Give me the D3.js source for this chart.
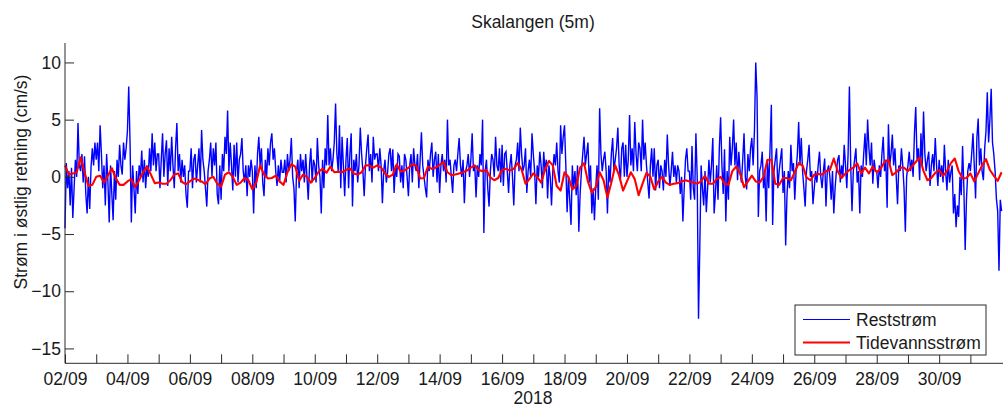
<!DOCTYPE html>
<html>
<head>
<meta charset="utf-8">
<script src="https://cdn.jsdelivr.net/npm/d3@7"></script>
<style>
  html, body { margin: 0; padding: 0; background: #fff; }
  svg { display: block; }
  text { font-family: "Liberation Sans", Arial, Helvetica, sans-serif; fill: #1a1a1a; }
</style>
</head>
<body>
<svg id="chart" width="1003" height="408"></svg>
<script>
// Skalangen (5 m): east-going current, September 2018.
const title = "Skalangen (5m)";
const yLabel = "Strøm i østlig retning (cm/s)";
const xLabel = "2018";
const seriesNames = ["Reststrøm", "Tidevannsstrøm"];
const startDate = Date.UTC(2018, 8, 2);
const endDate = Date.UTC(2018, 9, 2);
const yTicks = [-15, -10, -5, 0, 5, 10];

// Residual current (cm/s), hourly, one row per day from 02/09.
const residual = [
  -4.5, 1.2, -1.0, 0.5, -2.5, 0.8, -3.6, -1.0, 1.5, 0.0, 4.7, 1.0, 0.5, 2.0, -0.5, 1.8, -1.5, -3.2, 0.0, -2.8, 0.8, 2.5, 1.0, 3.0,
  1.5, 3.0, 0.5, 4.5, 2.0, -1.0, 1.0, -2.5, 2.0, -0.5, -4.0, 1.0, -1.5, -3.8, 0.5, -2.0, 1.5, 0.0, 2.8, 1.0, 0.2, 3.0, 1.5, 2.5,
  4.0, 7.9, 3.0, -4.0, 1.0, -1.0, -3.2, 0.5, -1.5, 1.0, 0.0, 2.3, -0.5, 1.5, -1.0, 1.0, 0.0, 2.5, 0.5, 3.8, 1.0, 3.0, 0.5, 2.0,
  2.0, -1.0, 1.5, 3.8, 0.0, 2.0, 3.2, -0.8, 2.5, 0.5, 3.5, 1.0, -1.0, 2.5, 4.7, 0.5, 2.0, -0.5, 1.5, 0.0, 1.0, -1.5, -2.7, 0.5,
  0.5, 2.5, -1.0, 1.5, 2.0, -0.5, 1.0, 2.5, -0.5, 4.1, 1.5, 0.5, -1.0, -2.6, 0.5, 1.5, 3.0, 0.0, 2.5, 1.0, 3.0, -1.5, -2.4, 1.0,
  -2.0, 2.0, 0.5, 3.5, 2.0, 5.8, 0.5, 3.0, 1.0, -1.2, 2.8, 0.0, 3.0, -0.5, 1.5, 2.0, 3.4, 0.5, -0.5, 1.0, -1.7, 1.0, 0.0, 1.5,
  0.5, -3.2, 1.0, -1.0, 2.0, 3.5, 1.0, 2.5, -0.5, -1.7, 1.5, 0.0, 2.5, 1.0, 3.0, 3.8, 1.5, 2.5, 0.5, -0.8, 1.0, -0.5, 1.5, 0.4,
  0.4, 1.5, -0.5, 2.0, 0.5, 1.5, 3.4, 0.0, -1.0, -3.9, 0.5, 1.5, -1.0, 2.0, 0.5, 1.5, -0.5, 2.0, 0.0, -2.0, 1.0, 2.5, -0.5, 1.5,
  1.0, -0.5, 3.4, 1.0, 0.0, -3.2, 1.5, -1.0, 2.5, 1.0, 5.4, 1.0, 2.5, 0.5, 1.5, 3.0, 6.4, 2.0, 0.5, 4.5, -1.0, 3.5, 1.0, -1.7,
  1.5, 3.4, -1.0, 2.0, 3.8, -2.6, 1.5, 0.5, 2.0, -0.5, 1.0, 4.3, 2.0, 0.5, -1.7, 1.0, 2.5, 3.7, 0.5, 2.0, -0.5, 3.5, 1.5, 2.0,
  2.0, 0.5, 2.5, 1.0, -2.3, 0.5, 1.5, -0.5, 0.4, 2.0, 2.5, 0.5, 2.4, -1.4, 1.0, 0.0, 2.0, 1.8, -0.5, 1.0, -1.0, 2.0, 1.5, 0.0,
  -1.7, 1.0, 2.0, -0.5, 2.5, 1.0, 0.5, 2.0, -1.0, 1.5, 3.9, 1.0, 0.0, -1.0, -1.8, 1.5, 0.5, 2.0, 3.0, 0.0, 1.5, 2.2, -0.5, 2.0,
  -1.4, 1.0, 2.0, 0.5, 1.5, -0.5, 5.0, 1.0, 1.5, 0.0, -1.4, 1.0, 1.5, 0.5, 2.0, 3.4, 1.0, 0.0, 1.5, -2.3, 0.5, 1.0, 2.0, 0.0,
  1.5, 3.8, 0.5, 1.0, -1.8, 1.0, 0.0, 2.0, 1.0, 5.0, -4.9, 0.5, 1.5, -1.0, -2.6, 0.5, 2.0, 1.5, 0.0, 3.5, 1.0, 0.5, 2.5, -0.5,
  2.8, -0.8, 2.0, 2.2, 0.5, -1.4, 1.0, 2.0, 0.0, -2.5, 1.0, 1.5, 3.0, 0.5, 4.3, 2.0, 0.5, 1.0, 2.5, -1.4, 0.5, 1.5, 0.0, 3.8,
  2.0, 0.5, -2.4, 1.0, 0.0, 2.2, 1.0, -1.0, 2.2, 0.5, 1.5, -1.9, 1.0, 0.0, -2.5, 0.5, 2.0, 1.0, 3.0, 0.5, -0.5, 4.5, 2.0, 3.5,
  4.5, 1.0, -3.1, 0.0, -2.0, -4.2, 1.0, -1.0, 0.5, -1.6, 1.0, -4.8, -1.5, 0.5, 2.0, 3.5, 1.0, 2.0, 3.0, -0.5, 1.0, -3.2, -1.0, -3.8,
  -1.0, 1.0, -2.0, 6.0, 2.0, 0.5, 1.5, 2.2, 0.5, -3.2, 1.0, -0.5, 2.0, 3.4, 0.5, 1.5, 2.5, 4.3, 1.0, -0.3, 2.5, 3.0, 0.0, 2.8,
  0.0, 1.5, 5.4, 1.0, 2.5, 0.5, 4.8, 2.0, 0.5, 3.0, 2.5, 0.5, 5.0, 1.5, 3.0, 1.0, -0.5, -1.9, 1.0, 2.5, 0.0, 2.5, -1.2, 1.0,
  1.5, -1.0, 1.0, 0.5, -1.2, 1.5, 0.0, 3.7, 1.0, -0.8, 0.5, 2.2, 0.0, 1.0, -0.5, 1.0, 0.5, -1.5, 0.0, -3.9, -1.0, 1.5, 2.5, 0.5,
  0.5, -2.0, 2.7, -1.0, -2.0, 3.8, 0.0, -12.4, -6.1, 1.0, -1.0, -2.5, 0.5, -3.1, -1.0, 1.5, -0.5, 1.0, 3.4, -3.2, -1.5, 1.0, -2.0, 2.5,
  5.2, 1.0, -1.5, 2.4, -3.9, 0.5, -2.0, 3.5, 1.0, 2.5, 5.0, 1.0, 3.0, -0.3, 2.2, 0.5, -0.5, 1.5, 3.8, 0.0, -1.1, 2.0, 0.5, 2.5,
  3.4, 1.0, 4.0, 10.0, 7.0, -3.5, 0.5, 1.0, 2.2, -1.0, 0.5, -3.9, 1.5, -1.0, 2.5, 6.3, -4.2, 0.5, 1.5, 2.5, -1.0, 0.5, 1.5, 2.5,
  -1.4, 0.5, -6.0, -1.7, 0.5, -1.0, 2.8, 0.5, 1.2, -2.0, 0.5, 2.0, 4.8, 1.0, 3.4, 0.5, -1.0, -2.6, 0.5, 1.5, 2.8, 0.0, 0.5, -2.4,
  -1.0, 0.5, -0.5, 1.0, 2.2, 0.0, -1.0, 0.5, 1.6, -2.6, 0.5, 1.0, 0.0, -2.0, 0.5, -3.2, -1.0, 0.5, 1.5, 1.9, -0.5, 1.0, 0.0, 2.8,
  1.0, -1.0, 2.0, 7.9, 1.0, -3.0, 0.5, 1.5, 2.5, -0.5, 0.5, -3.2, 1.0, 0.0, 2.0, 3.8, 1.0, 5.0, 2.5, 1.0, 3.0, -0.6, 1.5, 0.5,
  0.5, -1.0, 1.0, 0.0, 2.0, 3.5, 0.5, 1.5, -2.7, 4.6, 1.0, 2.0, 3.7, 1.0, 2.5, 0.0, -2.4, 1.0, 0.5, 2.5, 1.0, -1.0, -4.8, 0.0,
  1.0, 2.2, 0.5, 1.5, 0.0, 3.8, 6.1, 1.5, 2.5, -0.3, 3.8, 1.0, 5.7, 2.0, 0.5, 1.5, 2.2, -0.8, 1.0, 2.0, 0.5, 3.4, 1.0, -0.8,
  1.5, 0.0, 1.0, -0.5, 2.8, 0.5, -1.2, 1.5, -0.5, 0.4, 1.0, -3.2, -1.5, -4.4, -2.5, -3.5, 0.0, -1.6, 2.7, -1.0, -6.4, -2.0, 0.5, 1.2,
  0.5, 2.0, 3.8, 1.0, -1.9, 3.4, 5.1, 1.0, 2.5, 0.5, -0.3, 2.5, 4.0, 7.4, 3.0, 5.0, 7.7, 3.0, 2.0, 0.5, -1.9, -3.0, -8.2, -2.0,
  -3.0
];

// Tidal current (cm/s), every 3 hours, one row per day from 02/09.
const tidal = [
  1.0, 0.2, 0.3, 0.4, 1.7, 0.4, -0.8, -0.7,
  0.0, 0.1, -0.5, 0.1, 0.75, -0.1, -0.7, -0.7,
  -0.4, -0.2, -0.9, -0.3, 0.4, 0.9, 0.2, -0.55,
  -0.5, -0.6, -0.6, -0.3, 0.2, 0.3, -0.45, -0.65,
  -0.4, -0.15, -0.25, -0.4, -0.65, -0.15, 0.0, -0.6,
  -0.85, 0.2, 0.4, 0.0, -0.7, -0.5, -0.1, -0.3,
  -1.1, -0.5, 1.0, 0.2, -0.15, -0.1, 0.1, -0.4,
  -0.7, 0.4, 1.1, 0.9, -0.35, 0.2, 0.0, -0.5,
  -0.1, 0.45, 0.7, 0.35, 0.9, 0.4, 0.45, 0.4,
  0.6, 0.75, 0.3, 0.2, 0.4, 1.0, 1.0, 0.8,
  1.0, 0.8, 0.3, 0.0, 0.2, 1.1, 0.45, 0.55,
  0.8, 1.1, 1.0, -0.15, -0.1, 0.9, 0.7, 0.8,
  1.05, 1.3, 0.4, 0.15, 0.2, 0.3, 0.4, 0.55,
  0.8, 1.0, 0.6, 0.5, 0.6, -0.05, -0.3, -0.1,
  0.6, 0.7, 0.55, 0.7, 1.2, 0.65, -0.6, -0.2,
  0.3, 0.0, -0.5, 0.6, 1.4, 1.0, -0.8, -1.2,
  0.4, 0.0, -1.1, -0.8, 0.8, 1.2, -0.4, -1.4,
  -0.9, 0.4, -0.3, -1.8, -0.5, 1.0, 0.1, -1.2,
  -0.4, 0.4, -0.2, -1.6, -0.6, 0.35, 0.0, -1.1,
  -0.4, 0.0, -0.5, -0.7, -0.6, -0.55, -0.4, -0.3,
  -0.4, -0.5, -0.6, -0.4, 0.1, -0.6, -0.6, -0.2,
  0.0, -0.6, -0.7, 0.5, 0.9, 0.3, -0.9, -0.4,
  0.1, -0.4, -0.5, 0.0, 1.5, 1.5, -0.6, -0.7,
  -0.1, -0.1, -0.3, 0.4, 1.2, 1.0, -0.05, -0.3,
  0.2, 0.25, 0.2, 0.5, 0.6, 1.6, 0.5, -0.1,
  0.3, 0.6, 0.8, 1.17, 0.3, 0.8, 0.3, 0.9,
  0.4, 0.7, 1.3, 1.5, 0.15, 0.4, 0.8, 0.8,
  0.5, 0.9, 1.3, 1.7, 0.5, -0.3, -0.1, 0.35,
  0.6, 0.1, 0.5, 1.2, 1.6, 0.5, -0.15, -0.1,
  0.3, -0.4, 0.3, 1.0, 1.55, 0.6, 0.1, -0.35,
  0.4
];

const HOUR = 3600 * 1000;
const residualPts = residual.map((v, i) => ({ t: new Date(startDate + i * HOUR), v }));
const tidalPts = tidal.map((v, i) => ({ t: new Date(startDate + i * 3 * HOUR), v }));

const svg = d3.select("#chart");
const plotLeft = 65, plotRight = 1001.6, plotTop = 43, plotBottom = 363.3;
const axisColor = "#2a2a2a";
const fontSize = "17.5px";

const x = d3.scaleUtc().domain([new Date(startDate), new Date(endDate)]).range([plotLeft, plotRight]);
const y = d3.scaleLinear().domain([-16.3, 11.7]).range([plotBottom, plotTop]);

// data lines
const line = d3.line().x(d => x(d.t)).y(d => y(d.v));
svg.append("path")
  .datum(residualPts)
  .attr("d", line)
  .attr("fill", "none")
  .attr("stroke", "#0000ff")
  .attr("stroke-width", 1.4)
  .attr("stroke-linejoin", "miter");

svg.append("path")
  .datum(tidalPts)
  .attr("d", line)
  .attr("fill", "none")
  .attr("stroke", "#ff0000")
  .attr("stroke-width", 2.1)
  .attr("stroke-linejoin", "round");

// y axis, ticks pointing inward
const yAxis = svg.append("g")
  .attr("transform", `translate(${plotLeft},0)`)
  .call(d3.axisLeft(y).tickValues(yTicks).tickSizeInner(-9).tickSizeOuter(0).tickPadding(4).tickFormat(d3.format("d")));
yAxis.select(".domain").remove();
yAxis.append("line").attr("x1", 0).attr("x2", 0).attr("y1", plotTop).attr("y2", plotBottom)
  .attr("stroke", axisColor);

// x axis, daily ticks, labels every second day
const dayTicks = d3.utcDay.range(new Date(startDate), new Date(endDate));
const fmt = d3.utcFormat("%d/%m");
const xAxis = svg.append("g")
  .attr("transform", `translate(0,${plotBottom})`)
  .call(d3.axisBottom(x).tickValues(dayTicks).tickSizeInner(-9).tickSizeOuter(0).tickPadding(9)
    .tickFormat((d, i) => i % 2 === 0 ? fmt(d) : ""));
xAxis.select(".domain").remove();
xAxis.append("line").attr("x1", plotLeft).attr("x2", 1003).attr("y1", 0).attr("y2", 0)
  .attr("stroke", axisColor);

svg.selectAll(".tick line").attr("stroke", axisColor);
svg.selectAll(".tick text").style("font-size", fontSize).attr("fill", "#1a1a1a");

// titles
svg.append("text").attr("x", 533).attr("y", 28).attr("text-anchor", "middle")
  .style("font-size", fontSize).text(title);
svg.append("text").attr("x", 533).attr("y", 404).attr("text-anchor", "middle")
  .style("font-size", fontSize).text(xLabel);
svg.append("text").attr("transform", "translate(26.5,182) rotate(-90)").attr("text-anchor", "middle")
  .style("font-size", fontSize).text(yLabel);

// legend
const legend = svg.append("g").attr("transform", "translate(795,305)");
legend.append("rect").attr("x", 0).attr("y", 0).attr("width", 191).attr("height", 50)
  .attr("fill", "#fff").attr("stroke", axisColor).attr("stroke-width", 1);
const legendColors = ["#0000ff", "#ff0000"];
const legendWidths = [1, 2.1];
seriesNames.forEach((name, i) => {
  const ly = 14.5 + i * 23;
  legend.append("line").attr("x1", 8).attr("x2", 55).attr("y1", ly).attr("y2", ly)
    .attr("stroke", legendColors[i]).attr("stroke-width", legendWidths[i]);
  legend.append("text").attr("x", 61).attr("y", ly + 6.2)
    .style("font-size", fontSize).text(name);
});
</script>
</body>
</html>
